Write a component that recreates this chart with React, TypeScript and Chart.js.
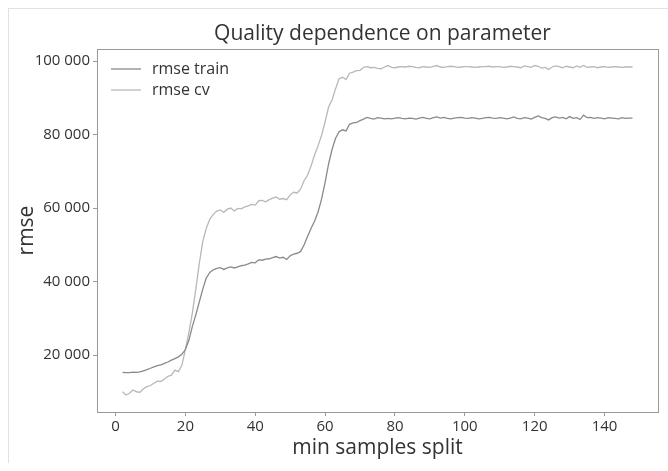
import React, { useEffect, useRef } from "react";
import { Chart, registerables } from "chart.js";

Chart.register(...registerables);

const TITLE = "Quality dependence on parameter";
const X_LABEL = "min samples split";
const Y_LABEL = "rmse";
const SERIES_NAMES = ["rmse train", "rmse cv"];

const minSamplesSplit = [
  2, 3, 4, 5, 6, 7, 8, 9, 10, 11, 12, 13, 14, 15, 16, 17, 18, 19, 20, 21,
  22, 23, 24, 25, 26, 27, 28, 29, 30, 31, 32, 33, 34, 35, 36, 37, 38, 39, 40, 41,
  42, 43, 44, 45, 46, 47, 48, 49, 50, 51, 52, 53, 54, 55, 56, 57, 58, 59, 60, 61,
  62, 63, 64, 65, 66, 67, 68, 69, 70, 71, 72, 73, 74, 75, 76, 77, 78, 79, 80, 81,
  82, 83, 84, 85, 86, 87, 88, 89, 90, 91, 92, 93, 94, 95, 96, 97, 98, 99, 100, 101,
  102, 103, 104, 105, 106, 107, 108, 109, 110, 111, 112, 113, 114, 115, 116, 117, 118, 119, 120, 121,
  122, 123, 124, 125, 126, 127, 128, 129, 130, 131, 132, 133, 134, 135, 136, 137, 138, 139, 140, 141,
  142, 143, 144, 145, 146, 147, 148,
];

const rmseTrain = [
  15300, 15200, 15200, 15350, 15300, 15400, 15700, 16000, 16400, 16800,
  17100, 17300, 17700, 18100, 18600, 19000, 19500, 20200, 21500, 24000,
  27800, 31000, 34500, 38000, 41000, 42500, 43200, 43600, 43800, 43300,
  43700, 44000, 43700, 44000, 44300, 44500, 44800, 45200, 45100, 45900,
  45800, 46100, 46200, 46500, 46800, 46400, 46600, 46000, 47000, 47500,
  47700, 48200, 50000, 52300, 54500, 56500, 59000, 62500, 67000, 72000,
  76000, 79000, 80800, 81300, 81000, 82800, 83200, 83300, 83800, 84200,
  84700, 84400, 84200, 84600, 84500, 84300,
  84400, 84300, 84500, 84600, 84400, 84300, 84500, 84400, 84200, 84500,
  84700, 84400, 84300, 84600, 84800, 84500, 84700, 84400, 84300, 84500,
  84600, 84700, 84500, 84400, 84600, 84500, 84300, 84400, 84600, 84700,
  84500, 84400, 84600, 84500, 84300, 84500, 84800, 84400, 84300, 84600,
  84500, 84200, 84700, 85100, 84600, 84400, 84000, 84600, 84800, 84500,
  84700, 84300, 84900, 84400, 84600, 84100, 85300, 84600, 84700, 84400,
  84600, 84500, 84300, 84600, 84500, 84400, 84300, 84600, 84400, 84500,
  84500,
];

const rmseCv = [
  10000, 9100, 9600, 10500, 10000, 9850, 10800, 11400, 11700, 12300,
  12900, 12800, 13500, 14200, 14500, 15900, 15500, 17200, 21500, 26000,
  31500, 38000, 45000, 51000, 54500, 57000, 58300, 59200, 59500, 58800,
  59700, 60000, 59200, 59900, 59800, 60300, 60600, 61000, 60800, 62000,
  62100, 61700, 62300, 62700, 63000, 62400, 62600, 62300, 63600, 64300,
  64100, 65200, 67500, 69000, 71500, 74500, 77000, 79800, 83500, 87500,
  89500, 92500, 95200, 95600, 95000, 96700, 97000, 97400, 97500, 98300,
  98500, 98200, 98300, 98000, 97900, 98400,
  98800, 98300, 98200, 98400, 98500, 98400, 98600, 98500, 98300, 98200,
  98500, 98400, 98300, 98600, 98800, 98400, 98300, 98500, 98600, 98500,
  98300, 98400, 98500, 98500, 98400, 98300, 98400, 98500, 98500, 98600,
  98400, 98500, 98500, 98300, 98400, 98600, 98500, 98400, 98200, 98700,
  98500, 98300, 98800, 98600, 98100, 98300, 97700, 98400, 98700, 98500,
  98200, 98600, 98400, 98200, 98700, 98300, 98800, 98300, 98400, 98500,
  98200, 98400, 98500, 98300, 98400, 98500, 98400, 98300, 98400, 98400,
  98400,
];

const xTicks = [0, 20, 40, 60, 80, 100, 120, 140];
const yTicks = [20000, 40000, 60000, 80000, 100000];

const FONT = "'Open Sans', 'DejaVu Sans', sans-serif";
const TEXT_COLOR = "#333333";
const AXIS_COLOR = "#9a9a9a";
const LINE_COLORS = ["#8a8a8a", "#b8b8b8"];

const fmt = (v: number) => String(Math.round(v)).replace(/\B(?=(\d{3})+(?!\d))/g, " ");

const framePlugin = {
  id: "frameBox",
  afterDatasetsDraw(chart: any) {
    const { ctx, chartArea } = chart;
    ctx.save();
    ctx.strokeStyle = AXIS_COLOR;
    ctx.lineWidth = 1;
    ctx.strokeRect(
      Math.round(chartArea.left) + 0.5,
      Math.round(chartArea.top) + 0.5,
      Math.round(chartArea.right - chartArea.left),
      Math.round(chartArea.bottom - chartArea.top)
    );
    ctx.restore();
  },
};

const titlePlugin = {
  id: "centeredTitle",
  afterDraw(chart: any) {
    const { ctx, chartArea } = chart;
    ctx.save();
    ctx.font = `21px ${FONT}`;
    ctx.fillStyle = TEXT_COLOR;
    ctx.textAlign = "center";
    ctx.textBaseline = "middle";
    ctx.fillText(TITLE, (chartArea.left + chartArea.right) / 2 + 5, 34);
    ctx.restore();
  },
};

const legendPlugin = {
  id: "innerLegend",
  afterDraw(chart: any) {
    const { ctx, chartArea } = chart;
    ctx.save();
    ctx.font = `16px ${FONT}`;
    ctx.textBaseline = "middle";
    chart.data.datasets.forEach((ds: any, i: number) => {
      const y = chartArea.top + 20 + i * 21;
      const x0 = chartArea.left + 14;
      ctx.strokeStyle = ds.borderColor;
      ctx.lineWidth = 1.3;
      ctx.beginPath();
      ctx.moveTo(x0, y);
      ctx.lineTo(x0 + 30, y);
      ctx.stroke();
      ctx.fillStyle = TEXT_COLOR;
      ctx.fillText(ds.label, x0 + 41, y);
    });
    ctx.restore();
  },
};

export default function App() {
  const ref = useRef<HTMLCanvasElement | null>(null);

  useEffect(() => {
    if (!ref.current) return;
    const chart = new Chart(ref.current, {
      type: "line",
      data: {
        datasets: [
          {
            label: SERIES_NAMES[0],
            data: minSamplesSplit.map((x, i) => ({ x, y: rmseTrain[i] })),
            borderColor: LINE_COLORS[0],
            borderWidth: 1.3,
            pointRadius: 0,
            tension: 0,
            fill: false,
          },
          {
            label: SERIES_NAMES[1],
            data: minSamplesSplit.map((x, i) => ({ x, y: rmseCv[i] })),
            borderColor: LINE_COLORS[1],
            borderWidth: 1.3,
            pointRadius: 0,
            tension: 0,
            fill: false,
          },
        ],
      },
      options: {
        responsive: false,
        animation: false,
        events: [],
        layout: { padding: { left: 0, right: 10, top: 49, bottom: 0 } },
        plugins: {
          legend: { display: false },
          tooltip: { enabled: false },
          title: { display: false },
        },
        scales: {
          x: {
            type: "linear",
            min: -5.3,
            max: 155.3,
            afterBuildTicks: (s: any) => {
              s.ticks = xTicks.map((v) => ({ value: v }));
            },
            afterFit: (s: any) => {
              s.height = 59;
            },
            ticks: {
              color: TEXT_COLOR,
              font: { family: FONT, size: 15 },
              padding: 2,
              maxRotation: 0,
              autoSkip: false,
            },
            grid: {
              drawOnChartArea: false,
              drawTicks: true,
              tickLength: 4,
              color: AXIS_COLOR,
            },
            border: { display: true, color: AXIS_COLOR },
            title: {
              display: true,
              text: X_LABEL,
              color: TEXT_COLOR,
              font: { family: FONT, size: 21 },
              padding: { top: 0, bottom: 10 },
            },
          },
          y: {
            type: "linear",
            min: 4490,
            max: 103300,
            afterBuildTicks: (s: any) => {
              s.ticks = yTicks.map((v) => ({ value: v }));
            },
            afterFit: (s: any) => {
              s.width = 97;
            },
            ticks: {
              color: TEXT_COLOR,
              font: { family: FONT, size: 15 },
              padding: 3,
              callback: (v: any) => fmt(Number(v)),
            },
            grid: {
              drawOnChartArea: false,
              drawTicks: true,
              tickLength: 4,
              color: AXIS_COLOR,
            },
            border: { display: true, color: AXIS_COLOR },
            title: {
              display: true,
              text: Y_LABEL,
              color: TEXT_COLOR,
              font: { family: FONT, size: 21 },
              padding: { top: 14, bottom: 0 },
            },
          },
        },
      },
      plugins: [framePlugin, titlePlugin, legendPlugin],
    });
    return () => chart.destroy();
  }, []);

  return (
    <div style={{ position: "absolute", left: 0, top: 0, width: 668, height: 471, background: "#fff" }}>
      <div
        style={{
          position: "absolute",
          left: 8,
          top: 8,
          width: 660,
          height: 454,
          borderTop: "1px solid #e2e2e2",
          borderLeft: "1px solid #e2e2e2",
        }}
      />
      <canvas ref={ref} width={668} height={471} style={{ position: "absolute", left: 0, top: 0, display: "block" }} />
    </div>
  );
}
